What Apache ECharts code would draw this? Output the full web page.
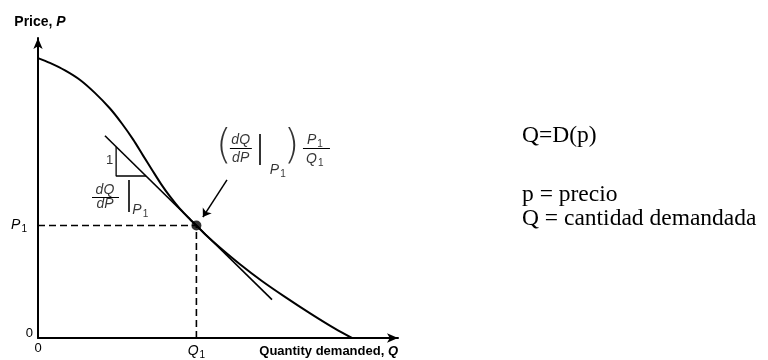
<!DOCTYPE html>
<html>
<head>
<meta charset="utf-8">
<script src="https://cdn.jsdelivr.net/npm/echarts@6/dist/echarts.min.js"></script>
<style>
  html, body { margin: 0; padding: 0; background: #fff; }
  #chart { width: 768px; height: 360px; }
</style>
</head>
<body>
<div id="chart"></div>
<script>
// Demand curve Q = D(p): quantity demanded (x) against price (y)
const demandQ = [0, 3.3, 7.5, 11.7, 15.8, 20.0, 23.3, 26.4, 29.2, 31.7, 34.2, 36.7, 39.4, 42.2, 44.0,
                 46.4, 50.6, 56.1, 62.2, 68.6, 75.6, 82.5, 87.2];
const demandP = [93.3, 91.7, 89.2, 86.0, 81.7, 76.5, 71.5, 66.2, 60.8, 56.0, 51.3, 47.1, 43.1, 39.6, 37.5,
                 34.6, 30.1, 24.6, 19.0, 13.7, 8.2, 3.1, 0];

// Point (Q1, P1) on the curve
const Q1 = 44.0;
const P1 = 37.5;

// Tangent to the curve at (Q1, P1)
const tangentQ = [18.6, 65.0];
const tangentP = [67.4, 12.8];

// Slope triangle under the tangent: rise of 1, run of dQ/dP
const triangleQ = [21.7, 21.7, 30.0];
const triangleP = [63.7, 54.0, 54.0];

// Pointer from the elasticity expression to the point
const pointerQ = [52.5, 45.8];
const pointerP = [52.7, 40.3];

// Axis tick labels
const xTickValues = [0, Q1];
const xTickLabels = ['{n|0}', '{i|Q}{s|1}'];
const yTickValues = [0, P1];
const yTickLabels = ['{z|0}', '{i|P}{sy|1}'];

// Notation pieces: elasticity expression and the slope-triangle labels
const noteText = ['{p|(}', '{f|dQ}', '{f|dP}', '{i|P}{s|1}', '{p|)}', '{i|P}{s|1}', '{i|Q}{s|1}',
                  '{n|1}', '{f|dQ}', '{f|dP}', '{i|P}{s|1}'];
const noteQ = [51.6, 56.3, 56.3, 66.6, 70.4, 76.9, 76.9, 19.9, 18.6, 18.6, 28.4];
const noteP = [63.3, 65.8, 60.0, 56.0, 63.3, 65.8, 59.5, 59.3, 49.4, 44.5, 42.6];

// Fraction rules and evaluation bars of the notation
const ruleQ = [[53.3, 59.4], [61.7, 61.7], [73.6, 81.1], [15.0, 22.5], [25.3, 25.3]];
const ruleP = [[63.3, 63.3], [68.0, 57.7], [63.3, 63.3], [47.0, 47.0], [52.7, 42.0]];
const ruleWidth = [1.2, 1.6, 1.2, 1.2, 1.6];

// Side legend text
const legendLines = ['Q=D(p)', 'p = precio', 'Q = cantidad demandada'];

const SANS = '"Liberation Sans", Arial, sans-serif';
const SERIF = '"Liberation Serif", "Times New Roman", serif';

const rich = {
  i: { fontFamily: SANS, fontStyle: 'italic', fontSize: 14, color: '#000' },
  f: { fontFamily: SANS, fontStyle: 'italic', fontSize: 14, color: '#000' },
  s: { fontFamily: SANS, fontSize: 10, color: '#000', padding: [8, 0, 0, 1] },
  sy: { fontFamily: SANS, fontSize: 10, color: '#000', padding: [8, 6, 0, 1] },
  n: { fontFamily: SANS, fontSize: 13, color: '#000' },
  z: { fontFamily: SANS, fontSize: 13, color: '#000', padding: [0, 0, 10, 0] },
  p: { fontFamily: '"DejaVu Sans", sans-serif', fontWeight: 200, fontSize: 40, color: '#000' }
};

const xy = (qs, ps) => qs.map((q, k) => [q, ps[k]]);

const chart = echarts.init(document.getElementById('chart'), null, { renderer: 'canvas' });

chart.setOption({
  animation: false,
  backgroundColor: '#fff',
  title: legendLines.map((t, k) => ({
    text: t,
    left: 522,
    top: [124, 183, 207][k],
    padding: 0,
    textStyle: { fontFamily: SERIF, fontSize: 23.5, fontWeight: 'normal', color: '#000' }
  })),
  grid: { left: 38, right: 370, top: 38, bottom: 22, containLabel: false },
  xAxis: {
    type: 'value', min: 0, max: 100,
    name: 'Quantity demanded, {i|Q}',
    nameLocation: 'end', nameGap: 0,
    nameTextStyle: {
      fontFamily: SANS, fontSize: 13, fontWeight: 'bold', color: '#000',
      align: 'right', verticalAlign: 'top', padding: [7, 0, 0, 0],
      rich: { i: { fontFamily: SANS, fontSize: 13, fontWeight: 'bold', fontStyle: 'italic', color: '#000' } }
    },
    axisLine: { show: true, onZero: false, symbol: ['none', 'arrow'], symbolSize: [7, 11],
                lineStyle: { color: '#000', width: 2 } },
    axisTick: { show: false },
    splitLine: { show: false },
    axisLabel: {
      customValues: xTickValues,
      formatter: v => xTickLabels[xTickValues.indexOf(v)] || '',
      margin: 4, rich: rich
    }
  },
  yAxis: {
    type: 'value', min: 0, max: 100,
    name: 'Price, {i|P}',
    nameLocation: 'end', nameGap: 9,
    nameTextStyle: {
      fontFamily: SANS, fontSize: 14, fontWeight: 'bold', color: '#000', padding: [0, 0, 0, 4],
      rich: { i: { fontFamily: SANS, fontSize: 14, fontWeight: 'bold', fontStyle: 'italic', color: '#000' } }
    },
    axisLine: { show: true, onZero: false, symbol: ['none', 'arrow'], symbolSize: [7, 11],
                lineStyle: { color: '#000', width: 2 } },
    axisTick: { show: false },
    splitLine: { show: false },
    axisLabel: {
      customValues: yTickValues,
      formatter: v => yTickLabels[yTickValues.indexOf(v)] || '',
      margin: 5, rich: rich
    }
  },
  series: [
    {
      name: 'D(p)', type: 'line', data: xy(demandQ, demandP),
      smooth: 0.3, symbol: 'none', silent: true,
      lineStyle: { color: '#000', width: 2 }
    },
    {
      name: 'tangent', type: 'line', data: xy(tangentQ, tangentP),
      symbol: 'none', silent: true,
      lineStyle: { color: '#000', width: 1.6 }
    },
    {
      name: 'slope triangle', type: 'line', data: xy(triangleQ, triangleP),
      symbol: 'none', silent: true,
      lineStyle: { color: '#000', width: 1.3 }
    },
    {
      name: 'guides', type: 'line', data: [[0, P1], [Q1, P1], [Q1, 0]],
      symbol: 'none', silent: true,
      lineStyle: { color: '#000', width: 1.6, type: [7, 4] }
    },
    {
      name: 'point', type: 'scatter', data: [[Q1, P1]],
      symbol: 'circle', symbolSize: 10, silent: true, z: 5,
      itemStyle: { color: '#000' }
    },
    {
      name: 'pointer', type: 'lines', coordinateSystem: 'cartesian2d',
      data: [{ coords: xy(pointerQ, pointerP) }],
      symbol: ['none', 'arrow'], symbolSize: 8, silent: true,
      lineStyle: { color: '#000', width: 1.5, opacity: 1 }
    },
    {
      name: 'rules', type: 'lines', coordinateSystem: 'cartesian2d',
      data: ruleQ.map((qs, k) => ({
        coords: xy(qs, ruleP[k]),
        lineStyle: { width: ruleWidth[k] }
      })),
      silent: true,
      lineStyle: { color: '#000', width: 1.2, opacity: 1 }
    },
    {
      name: 'notation', type: 'scatter', symbolSize: 0, silent: true, z: 6,
      data: noteQ.map((q, k) => ({
        value: [q, noteP[k]],
        label: { show: true, position: 'inside', formatter: noteText[k], rich: rich }
      })),
      itemStyle: { color: 'transparent' }
    }
  ]
});
</script>
</body>
</html>
